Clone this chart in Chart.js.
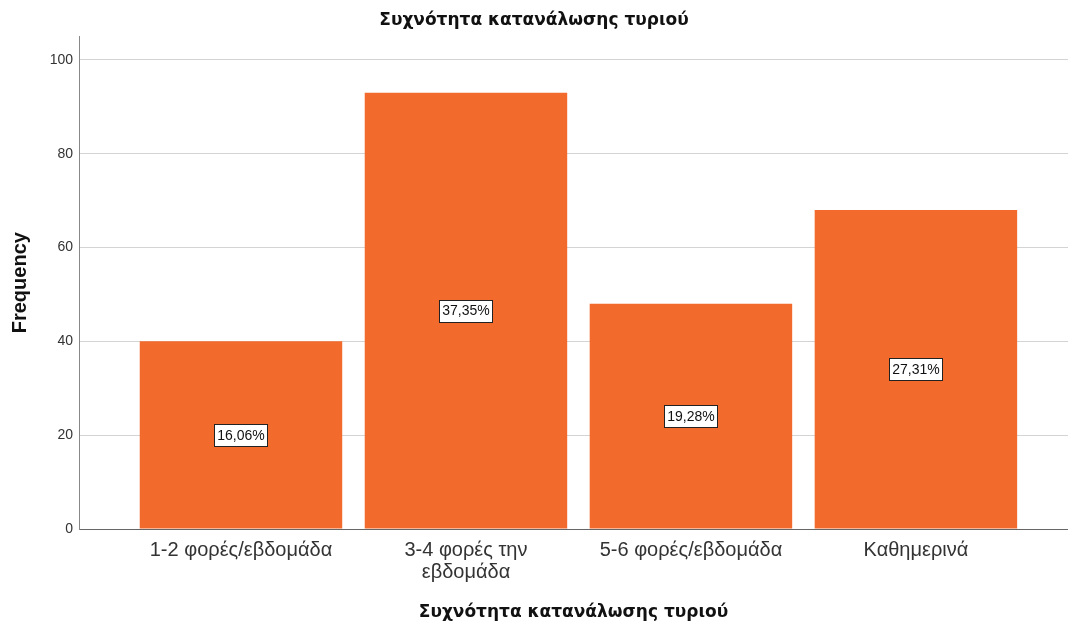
<!DOCTYPE html>
<html>
<head>
<meta charset="utf-8">
<script src="https://cdn.jsdelivr.net/npm/chart.js@4/dist/chart.umd.min.js"></script>
<style>
  html, body { margin: 0; padding: 0; background: #fff; }
  #wrap { width: 1068px; height: 626px; }
</style>
</head>
<body>
<div id="wrap"><canvas id="chart"></canvas></div>
<script>
const categories = [
  '1-2 φορές/εβδομάδα',
  ['3-4 φορές την', 'εβδομάδα'],
  '5-6 φορές/εβδομάδα',
  'Καθημερινά'
];
const frequencies = [40, 93, 48, 68];
const percentLabels = ['16,06%', '37,35%', '19,28%', '27,31%'];
const yTicks = [0, 20, 40, 60, 80, 100];

const FONT = '"Liberation Sans", Arial, sans-serif';
const TITLE_FONT = '"DejaVu Sans", Verdana, sans-serif';
const BAR_COLOR = '#f36a2d';

// white boxed percentage labels in the middle of each bar
const boxLabels = {
  id: 'boxLabels',
  afterDatasetsDraw(chart) {
    const ctx = chart.ctx;
    const meta = chart.getDatasetMeta(0);
    ctx.save();
    ctx.font = '14px ' + FONT;
    ctx.textAlign = 'center';
    ctx.textBaseline = 'middle';
    meta.data.forEach((bar, i) => {
      const text = percentLabels[i];
      const cx = bar.x;
      const cy = (bar.y + bar.base) / 2;
      const w = Math.round(ctx.measureText(text).width + 6);
      const h = 22;
      const left = Math.round(cx - w / 2) + 0.5;
      const top = Math.round(cy - h / 2) + 0.5;
      ctx.fillStyle = '#ffffff';
      ctx.fillRect(left, top, w, h);
      ctx.strokeStyle = '#222';
      ctx.lineWidth = 1;
      ctx.strokeRect(left, top, w, h);
      ctx.fillStyle = '#111';
      ctx.fillText(text, cx, cy + 1);
    });
    ctx.restore();
  }
};

new Chart(document.getElementById('chart'), {
  type: 'bar',
  data: {
    datasets: [{
      data: frequencies.map((v, i) => ({ x: i, y: v })),
      backgroundColor: BAR_COLOR,
      borderWidth: 0,
      barPercentage: 0.9,
      categoryPercentage: 1.0
    }]
  },
  options: {
    responsive: true,
    maintainAspectRatio: false,
    animation: false,
    layout: { padding: { left: 0, right: 0, top: 0, bottom: 3 } },
    scales: {
      x: {
        type: 'linear',
        offset: false,
        min: -0.72,
        max: 3.676,
        grid: { display: false, drawTicks: false },
        border: { display: true, color: '#666', width: 1 },
        afterBuildTicks: axis => { axis.ticks = categories.map((_, i) => ({ value: i })); },
        afterFit: axis => { axis.height = 94; },
        ticks: {
          autoSkip: false,
          maxRotation: 0,
          padding: 10,
          color: '#333',
          font: { family: FONT, size: 20, lineHeight: 1.1 },
          callback: v => categories[v]
        },
        title: {
          display: true,
          text: 'Συχνότητα κατανάλωσης τυριού',
          color: '#111',
          font: { family: TITLE_FONT, size: 17, weight: 'bold' },
          padding: { top: 4, bottom: 0 }
        }
      },
      y: {
        min: 0,
        max: 105,
        grid: { color: '#d4d4d4', drawTicks: false },
        border: { display: true, color: '#888', width: 1 },
        afterBuildTicks: axis => { axis.ticks = yTicks.map(v => ({ value: v })); },
        afterFit: axis => { axis.width = 79; },
        ticks: {
          padding: 6,
          color: '#333',
          font: { family: FONT, size: 14 }
        },
        title: {
          display: true,
          text: 'Frequency',
          color: '#111',
          font: { family: FONT, size: 20, weight: 'bold' },
          padding: { top: 8, bottom: 0 }
        }
      }
    },
    plugins: {
      legend: { display: false },
      tooltip: { enabled: false },
      title: {
        display: true,
        text: 'Συχνότητα κατανάλωσης τυριού',
        color: '#111',
        font: { family: TITLE_FONT, size: 17, weight: 'bold' },
        padding: { top: 10, bottom: 6 }
      }
    }
  },
  plugins: [boxLabels]
});
</script>
</body>
</html>
